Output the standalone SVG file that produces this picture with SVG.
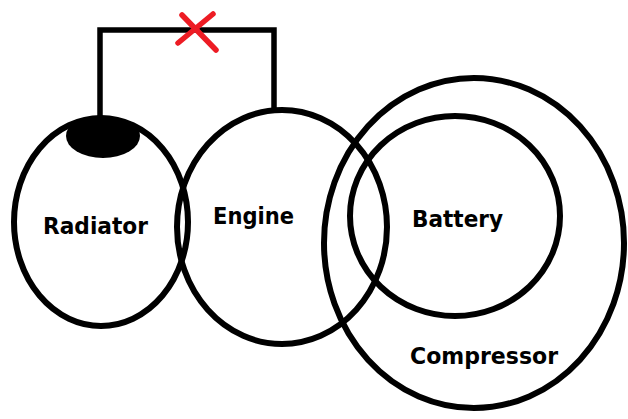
<svg xmlns="http://www.w3.org/2000/svg" width="628" height="419" viewBox="0 0 628 419">
<style>
.ring{fill:none;stroke:#000;stroke-width:6}
.wire{fill:none;stroke:#000;stroke-width:5.5;stroke-linejoin:miter}
.lbl{font-family:"DejaVu Sans",Verdana,sans-serif;font-weight:bold;font-size:23px;fill:#000}
.cross{stroke:#ED1C24;stroke-width:5.5;stroke-linecap:round}
</style>
<defs>
<clipPath id="radClip"><ellipse cx="101" cy="222" rx="87" ry="104"/></clipPath>
</defs>
<rect width="628" height="419" fill="#fff"/>
<g id="connectors">
<path class="wire" d="M100,120 V30 H274 V110"/>
<g id="break">
<line class="cross" x1="182" y1="15" x2="216" y2="50"/>
<line class="cross" x1="213" y1="14" x2="178" y2="43"/>
</g>
</g>
<g id="radiator">
<ellipse cx="103" cy="136" rx="37" ry="22" fill="#000" clip-path="url(#radClip)"/>
<ellipse class="ring" cx="101" cy="222" rx="87" ry="104"/>
<text class="lbl" x="43" y="234" textLength="105" lengthAdjust="spacingAndGlyphs">Radiator</text>
</g>
<g id="engine">
<ellipse class="ring" cx="282" cy="227" rx="105" ry="117"/>
<text class="lbl" x="213" y="224" textLength="81" lengthAdjust="spacingAndGlyphs">Engine</text>
</g>
<g id="compressor">
<ellipse class="ring" cx="474" cy="243" rx="150" ry="165"/>
<text class="lbl" x="410" y="364" textLength="148" lengthAdjust="spacingAndGlyphs">Compressor</text>
</g>
<g id="battery">
<ellipse class="ring" cx="455" cy="216" rx="105" ry="100"/>
<text class="lbl" x="412" y="227" textLength="91" lengthAdjust="spacingAndGlyphs">Battery</text>
</g>
</svg>
